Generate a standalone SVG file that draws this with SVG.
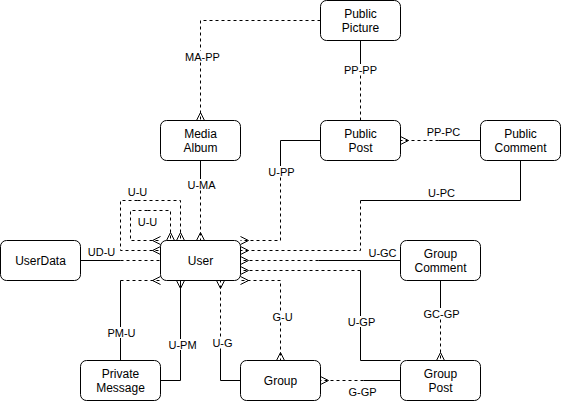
<svg xmlns="http://www.w3.org/2000/svg" width="561" height="401" viewBox="0 0 561 401">
<style>
.n{fill:#fff;stroke:#000;stroke-width:1}
.t{font-family:"Liberation Sans",Arial,sans-serif;font-size:12px;fill:#000;text-anchor:middle}
.l{font-family:"Liberation Sans",Arial,sans-serif;font-size:11px;fill:#000;text-anchor:middle}
.s{fill:none;stroke:#000;stroke-width:1}
.d{fill:none;stroke:#000;stroke-width:1;stroke-dasharray:3 3}
.m{marker-end:url(#many)}
.bg{fill:#fff;stroke:none}
</style>
<defs>
<marker id="many" viewBox="-10 -6 12 12" refX="0" refY="0" markerWidth="12" markerHeight="12" markerUnits="userSpaceOnUse" orient="auto" overflow="visible">
<path d="M0,-4 L-8,0 L0,4" fill="none" stroke="#000" stroke-width="1"/>
</marker>
</defs>
<rect width="561" height="401" fill="#fff"/>
<g transform="translate(0.5,0.5)">
<g id="connectors">
<!-- MA-PP -->
<path class="d m" d="M320,20 H200 V120"/>
<!-- PP-PP -->
<path class="s" d="M360,40 V69"/><path class="d" d="M360,69 V120"/>
<!-- PP-PC -->
<path class="s" d="M480,140 H438"/><path class="d m" d="M438,140 H400"/>
<!-- U-PP -->
<path class="s" d="M320,140 H280 V171"/><path class="d m" d="M280,171 V240 H240"/>
<!-- U-PC -->
<path class="s" d="M520,160 V200 H360"/><path class="d m" d="M360,200 V250 H240"/>
<!-- U-GC -->
<path class="s" d="M400,260 H318"/><path class="d m" d="M318,260 H240"/>
<!-- U-GP -->
<path class="s" d="M400,360 H360 V270"/><path class="d m" d="M360,270 H240"/>
<!-- G-U -->
<path class="d m" d="M280,316 V360"/><path class="d m" d="M280,316 V280 H240"/>
<!-- U-U outer -->
<path class="d m" d="M137,200 H180 V240"/><path class="d m" d="M137,200 H120 V250 H160"/>
<!-- U-U inner -->
<path class="d m" d="M147,210 H170 V240"/><path class="d m" d="M147,210 H130 V240 H160"/>
<!-- U-MA -->
<path class="s" d="M200,160 V184"/><path class="d m" d="M200,184 V240"/>
<!-- UD-U -->
<path class="s" d="M80,260 H120"/><path class="d" d="M120,260 H160"/>
<!-- PM-U -->
<path class="s" d="M120,360 V280"/><path class="d m" d="M120,280 H160"/>
<!-- U-PM -->
<path class="s m" d="M160,380 H180 V280"/>
<!-- U-G -->
<path class="s" d="M240,380 H220 V342"/><path class="d m" d="M220,342 V280"/>
<!-- G-GP -->
<path class="s" d="M400,380 H363"/><path class="d m" d="M363,380 H320"/>
<!-- GC-GP -->
<path class="s" d="M440,280 V313"/><path class="d m" d="M440,313 V360"/>
<!-- labels -->
<rect class="bg" x="184" y="50.5" width="36" height="11"/><text class="l" x="202" y="60">MA-PP</text>
<rect class="bg" x="343" y="63.5" width="35" height="11"/><text class="l" x="360" y="73">PP-PP</text>
<text class="l" x="443" y="135.5">PP-PC</text>
<rect class="bg" x="267" y="165.5" width="28" height="11"/><text class="l" x="281" y="175">U-PP</text>
<text class="l" x="441" y="196.5">U-PC</text>
<text class="l" x="382" y="256">U-GC</text>
<rect class="bg" x="347" y="315.5" width="29" height="11"/><text class="l" x="361" y="325">U-GP</text>
<rect class="bg" x="271" y="310.5" width="22" height="11"/><text class="l" x="282" y="320">G-U</text>
<text class="l" x="137" y="195">U-U</text>
<text class="l" x="147" y="225">U-U</text>
<rect class="bg" x="186" y="178.5" width="30" height="11"/><text class="l" x="201" y="188">U-MA</text>
<text class="l" x="101" y="255.5">UD-U</text>
<rect class="bg" x="106" y="326.5" width="30" height="11"/><text class="l" x="121" y="336">PM-U</text>
<rect class="bg" x="167" y="338.5" width="30" height="11"/><text class="l" x="182" y="348">U-PM</text>
<rect class="bg" x="211" y="337" width="22" height="11"/><text class="l" x="222" y="346.5">U-G</text>
<text class="l" x="362" y="395">G-GP</text>
<rect class="bg" x="422" y="307.5" width="38" height="11"/><text class="l" x="441" y="317">GC-GP</text>
</g>
<g id="public-picture"><rect class="n" x="320" y="0" width="80" height="40" rx="6"/><text class="t" x="360" y="17.4">Public</text><text class="t" x="360" y="31.8">Picture</text></g>
<g id="media-album"><rect class="n" x="160" y="120" width="80" height="40" rx="6"/><text class="t" x="200" y="137.4">Media</text><text class="t" x="200" y="151.8">Album</text></g>
<g id="public-post"><rect class="n" x="320" y="120" width="80" height="40" rx="6"/><text class="t" x="360" y="137.4">Public</text><text class="t" x="360" y="151.8">Post</text></g>
<g id="public-comment"><rect class="n" x="480" y="120" width="80" height="40" rx="6"/><text class="t" x="520" y="137.4">Public</text><text class="t" x="520" y="151.8">Comment</text></g>
<g id="userdata"><rect class="n" x="0" y="240" width="80" height="40" rx="6"/><text class="t" x="40" y="264.5">UserData</text></g>
<g id="user"><rect class="n" x="160" y="240" width="80" height="40" rx="6"/><text class="t" x="200" y="264.5">User</text></g>
<g id="group-comment"><rect class="n" x="400" y="240" width="80" height="40" rx="6"/><text class="t" x="440" y="257.4">Group</text><text class="t" x="440" y="271.8">Comment</text></g>
<g id="private-message"><rect class="n" x="80" y="360" width="80" height="40" rx="6"/><text class="t" x="120" y="377.4">Private</text><text class="t" x="120" y="391.8">Message</text></g>
<g id="group"><rect class="n" x="240" y="360" width="80" height="40" rx="6"/><text class="t" x="280" y="384.5">Group</text></g>
<g id="group-post"><rect class="n" x="400" y="360" width="80" height="40" rx="6"/><text class="t" x="440" y="377.4">Group</text><text class="t" x="440" y="391.8">Post</text></g>
</g>
</svg>
